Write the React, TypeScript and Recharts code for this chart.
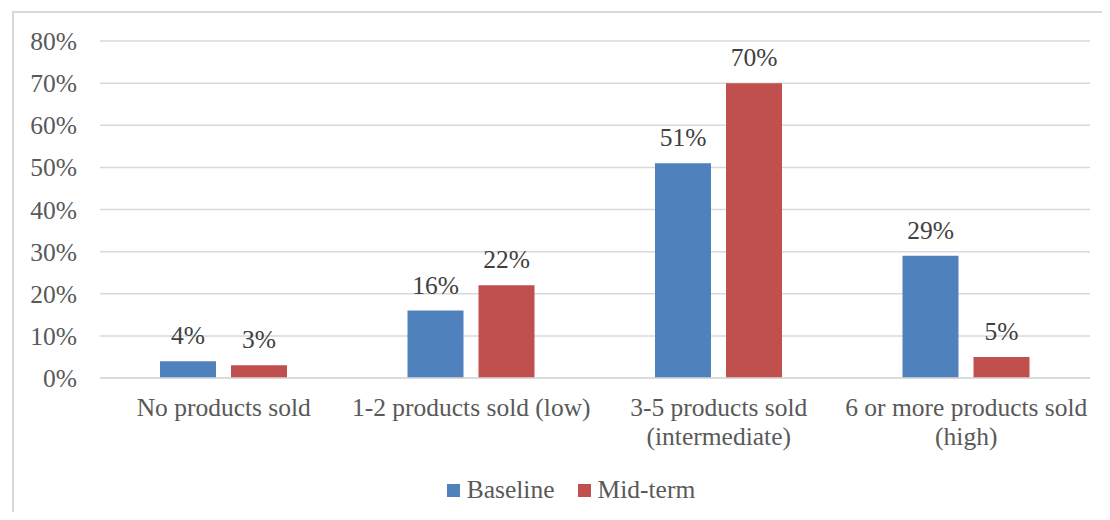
import React from 'react';
import { BarChart, Bar, XAxis, YAxis, CartesianGrid, Legend, LabelList } from 'recharts';

const categories = [
  'No products sold',
  '1-2 products sold (low)',
  '3-5 products sold (intermediate)',
  '6 or more products sold (high)',
];
const baseline = [4, 16, 51, 29];
const midTerm = [3, 22, 70, 5];
const yTicks = [0, 10, 20, 30, 40, 50, 60, 70, 80];

const BLUE = '#4F81BD';
const RED = '#C0504D';
const TEXT = '#595959';
const FONT = '"Liberation Serif", "Times New Roman", serif';
const FS = 25.5;

const data = categories.map((name, i) => ({ name, baseline: baseline[i], midTerm: midTerm[i] }));

// break long labels before the bracketed part, like Excel does
const CategoryTick = ({ x, y, payload }: any) => {
  const label: string = payload.value;
  let lines = [label];
  if (label.length > 24) {
    const k = label.lastIndexOf(' (');
    lines = [label.slice(0, k), label.slice(k + 1)];
  }
  return (
    <text x={x} y={y} textAnchor="middle" fill={TEXT} fontSize={FS} fontFamily={FONT}>
      {lines.map((l, i) => (
        <tspan key={i} x={x} dy={i === 0 ? 30 : 29}>{l}</tspan>
      ))}
    </text>
  );
};

const LegendContent = () => (
  <div style={{ display: 'flex', justifyContent: 'center', alignItems: 'center', fontFamily: FONT, fontSize: FS, color: TEXT, paddingLeft: 52, paddingTop: 7 }}>
    <span style={{ display: 'inline-block', width: 13, height: 13, background: BLUE, marginRight: 7 }} />
    <span style={{ marginRight: 23 }}>Baseline</span>
    <span style={{ display: 'inline-block', width: 13, height: 13, background: RED, marginRight: 7 }} />
    <span>Mid-term</span>
  </div>
);

export default function App() {
  return (
    <div style={{ margin: -8, width: 1110, height: 520, position: 'relative', overflow: 'hidden', background: '#fff' }}>
      <div style={{ position: 'absolute', left: 12, top: 11, width: 1120, height: 530, border: '2px solid #d9d9d9' }} />
      <div style={{ position: 'absolute', left: 0, top: 0 }}>
        <BarChart width={1110} height={520} data={data} margin={{ top: 41, right: 20, left: 0, bottom: 16 }} barSize={56} barGap={15}>
          <CartesianGrid vertical={false} stroke="#d9d9d9" strokeWidth={1.5} />
          <XAxis
            dataKey="name"
            axisLine={{ stroke: '#d9d9d9', strokeWidth: 1.5 }}
            tickLine={false}
            interval={0}
            height={90}
            tick={<CategoryTick />}
          />
          <YAxis
            width={100}
            domain={[0, 80]}
            ticks={yTicks}
            axisLine={false}
            tickLine={false}
            tickFormatter={(v: number) => `${v}%`}
            tick={{ fill: TEXT, fontSize: FS, fontFamily: FONT, dx: -15 }}
          />
          <Legend verticalAlign="bottom" height={36} content={<LegendContent />} />
          <Bar dataKey="baseline" name="Baseline" fill={BLUE} isAnimationActive={false}>
            <LabelList dataKey="baseline" position="top" offset={17} formatter={(v: number) => `${v}%`} fill="#404040" fontSize={FS} fontFamily={FONT} />
          </Bar>
          <Bar dataKey="midTerm" name="Mid-term" fill={RED} isAnimationActive={false}>
            <LabelList dataKey="midTerm" position="top" offset={17} formatter={(v: number) => `${v}%`} fill="#404040" fontSize={FS} fontFamily={FONT} />
          </Bar>
        </BarChart>
      </div>
    </div>
  );
}
